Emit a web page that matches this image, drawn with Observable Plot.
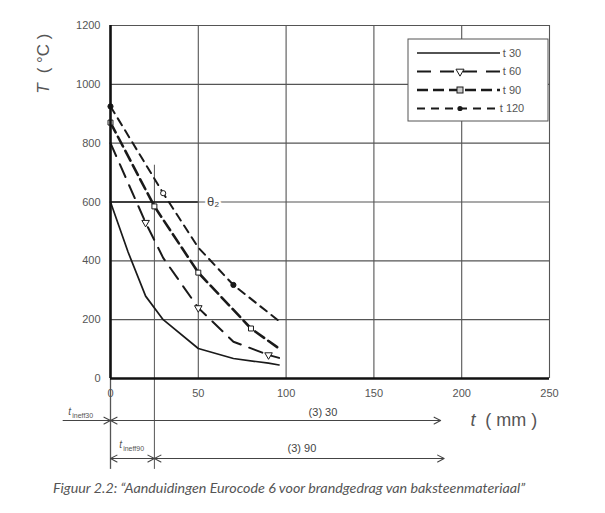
<!DOCTYPE html>
<html>
<head>
<meta charset="utf-8">
<script src="https://cdn.jsdelivr.net/npm/d3@7"></script>
<script src="https://cdn.jsdelivr.net/npm/@observablehq/plot@0.6"></script>
<style>
  body { margin: 0; background: #fff; }
  #wrap { position: relative; width: 605px; }
  #wrap svg, #wrap svg text { font-family: "Liberation Sans", Arial, sans-serif; }
  #caption { font-family: Lato, "Open Sans", sans-serif; font-style: italic; font-size: 14.3px; color: #555;
             margin-left: 53px; line-height: 20px; height: 20px; white-space: nowrap; }
</style>
</head>
<body>
<div id="wrap"></div>
<div id="caption">Figuur 2.2: “Aanduidingen Eurocode 6 voor brandgedrag van baksteenmateriaal”</div>
<script>
// ---- data ----
const seriesNames = ["t 30", "t 60", "t 90", "t 120"];
const x30 = [0, 5, 10, 20, 30, 50, 70, 90, 96];
const y30 = [600, 515, 430, 280, 200, 102, 68, 52, 46];
const x60 = [0, 10, 20, 30, 50, 70, 90, 96];
const y60 = [800, 665, 530, 410, 240, 125, 80, 70];
const x90 = [0, 25, 50, 80, 96];
const y90 = [870, 585, 360, 170, 102];
const x120 = [0, 30, 50, 70, 96];
const y120 = [925, 630, 445, 318, 195];
// marker positions (x values on the curves)
const mark60 = [20, 50, 90];
const mark90 = [0, 25, 50, 80];
const mark120 = [0, 30, 70];
const xTicks = [0, 50, 100, 150, 200, 250];
const yTicks = [0, 200, 400, 600, 800, 1000, 1200];
const theta2 = 600;          // θ2 level
const theta2End = 50;        // θ2 line reaches t = 50
const tIneff90 = 25;         // t_ineff90 width
const tIneff90Top = 725;
const range30End = 188;      // (3) 30 arrow end
const range90End = 190;      // (3) 90 arrow end

// ---- layout of annotations below the axis (data units) ----
const row1 = -143, row2 = -272, extBottom = -309;

const xsAll = [x30, x60, x90, x120];
const ysAll = [y30, y60, y90, y120];
const rows = seriesNames.flatMap((s, i) => xsAll[i].map((x, j) => ({series: s, x, y: ysAll[i][j]})));
const valAt = (s, x) => rows.find(r => r.series === s && r.x === x).y;

const styles = {
  "t 30": {dash: null, w: 1.7},
  "t 60": {dash: "14,9", w: 2},
  "t 90": {dash: "11,5", w: 2.6},
  "t 120": {dash: "8,6", w: 2}
};
const ink = "#1a1a1a";
const gridC = "#555";
const textC = "#555";

const lineMarks = seriesNames.map(s => Plot.line(rows.filter(r => r.series === s), {
  x: "x", y: "y", stroke: ink, strokeWidth: styles[s].w, strokeDasharray: styles[s].dash
}));

const m60 = mark60.map(x => ({x, y: valAt("t 60", x)}));
const m90 = mark90.map(x => ({x, y: valAt("t 90", x)}));
const m120 = mark120.map(x => ({x, y: valAt("t 120", x)}));

const chart = Plot.plot({
  width: 605, height: 478,
  marginTop: 25, marginLeft: 110, marginRight: 56, marginBottom: 100,
  x: {domain: [0, 250]},
  y: {domain: [0, 1200]},
  style: {fontSize: "11px", background: "#fff"},
  marks: [
    Plot.ruleX(xTicks.slice(1), {y1: 0, y2: 1200, stroke: gridC, strokeWidth: 1.1}),
    Plot.ruleY(yTicks.slice(1), {x1: 0, x2: 250, stroke: gridC, strokeWidth: 1.1}),
    // extension lines below axis
    Plot.ruleX([0], {y1: extBottom, y2: 0, stroke: gridC, strokeWidth: 1.3}),
    Plot.ruleX([tIneff90], {y1: extBottom, y2: tIneff90Top, stroke: gridC, strokeWidth: 1}),
    // θ2
    Plot.ruleY([theta2], {x1: 0, x2: theta2End, stroke: ink, strokeWidth: 1.6}),
    Plot.text([theta2], {x: theta2End + 8.5, y: d => d, text: () => "θ₂", fontFamily: "'DejaVu Serif', serif",
      fontSize: 13, fill: "#444", stroke: "white", strokeWidth: 5, paintOrder: "stroke"}),
    ...lineMarks,
    Plot.dot(m60, {x: "x", y: "y", symbol: "triangle", rotate: 180, r: 2.8, stroke: ink, fill: "white", strokeWidth: 1}),
    Plot.dot(m90, {x: "x", y: "y", symbol: "square", r: 2.8, stroke: ink, fill: "white", strokeWidth: 1}),
    Plot.dot(m120, {x: "x", y: "y", symbol: "circle", r: 2.6, stroke: ink, fill: (d, i) => i === 1 ? "white" : ink, strokeWidth: 1}),
    // axes
    Plot.ruleX([0], {y1: 0, y2: 1200, stroke: "#111", strokeWidth: 2.6}),
    Plot.ruleY([0], {x1: 0, x2: 250, stroke: "#111", strokeWidth: 2.6}),
    Plot.axisX({ticks: xTicks, tickFormat: d => String(d), tickSize: 0, tickPadding: 11, label: null, fill: textC, fontSize: 11}),
    Plot.axisY({ticks: yTicks, tickFormat: d => String(d), tickSize: 0, tickPadding: 10, label: null, fill: textC, fontSize: 11}),
    // y label
    Plot.text(["T"], {x: -38, y: 986, text: d => d, rotate: -90, fontSize: 17, fontStyle: "italic", fill: textC}),
    Plot.text(["( °C )"], {x: -38, y: 1105, text: d => d, rotate: -90, fontSize: 17, fill: textC}),
    // x label
    Plot.text(["t"], {x: 205, y: row1, text: d => d, textAnchor: "start", fontSize: 18, fontStyle: "italic", fill: textC}),
    Plot.text(["( mm )"], {x: 213.4, y: row1, text: d => d, textAnchor: "start", fontSize: 18, fill: textC}),
    // dimension arrows
    Plot.arrow([
      {x1: -27, y1: row1, x2: 0, y2: row1},
      {x1: 94, y1: row1, x2: 0, y2: row1},
      {x1: 94, y1: row1, x2: range30End, y2: row1},
      {x1: tIneff90 / 2, y1: row2, x2: 0, y2: row2},
      {x1: tIneff90 / 2, y1: row2, x2: tIneff90, y2: row2},
      {x1: 107, y1: row2, x2: tIneff90, y2: row2},
      {x1: 107, y1: row2, x2: range90End, y2: row2}
    ], {x1: "x1", y1: "y1", x2: "x2", y2: "y2", stroke: "#444", strokeWidth: 1.1, headLength: 10, headAngle: 55}),
    Plot.text(["(3) 30"], {x: 121, y: -116, text: d => d, fontSize: 11, fill: "#444"}),
    Plot.text(["(3) 90"], {x: 109, y: -238, text: d => d, fontSize: 11, fill: "#444"}),
    Plot.text(["t"], {x: -24, y: -112, text: d => d, textAnchor: "start", fontSize: 10, fontStyle: "italic", fill: textC}),
    Plot.text(["ineff30"], {x: -21.8, y: -126, text: d => d, textAnchor: "start", fontSize: 7, fill: textC}),
    Plot.text(["t"], {x: 5, y: -226, text: d => d, textAnchor: "start", fontSize: 10, fontStyle: "italic", fill: textC}),
    Plot.text(["ineff90"], {x: 7.2, y: -240, text: d => d, textAnchor: "start", fontSize: 7, fill: textC})
  ]
});
document.getElementById("wrap").appendChild(chart);

// ---- legend (drawn inside the svg, top-right of the plot) ----
const svg = d3.select(chart);
const lg = svg.append("g").attr("transform", "translate(408,39)");
lg.append("rect").attr("width", 140).attr("height", 82).attr("fill", "white").attr("stroke", "#555").attr("stroke-width", 1);
seriesNames.forEach((s, i) => {
  const y = 14 + i * 18.5;
  lg.append("line").attr("x1", 9).attr("x2", 92).attr("y1", y).attr("y2", y)
    .attr("stroke", ink).attr("stroke-width", styles[s].w)
    .attr("stroke-dasharray", styles[s].dash);
  if (i === 1) lg.append("path").attr("d", d3.symbol(d3.symbolTriangle, 28)()).attr("transform", `translate(52,${y}) rotate(180)`).attr("fill", "white").attr("stroke", ink);
  if (i === 2) lg.append("rect").attr("x", 49).attr("y", y - 3).attr("width", 6).attr("height", 6).attr("fill", "#ccc").attr("stroke", ink);
  if (i === 3) lg.append("circle").attr("cx", 52).attr("cy", y).attr("r", 2.6).attr("fill", ink);
  lg.append("text").attr("x", 104).attr("y", y).attr("dy", "0.35em").attr("font-size", 11).attr("fill", textC).text(s);
});
</script>
</body>
</html>
